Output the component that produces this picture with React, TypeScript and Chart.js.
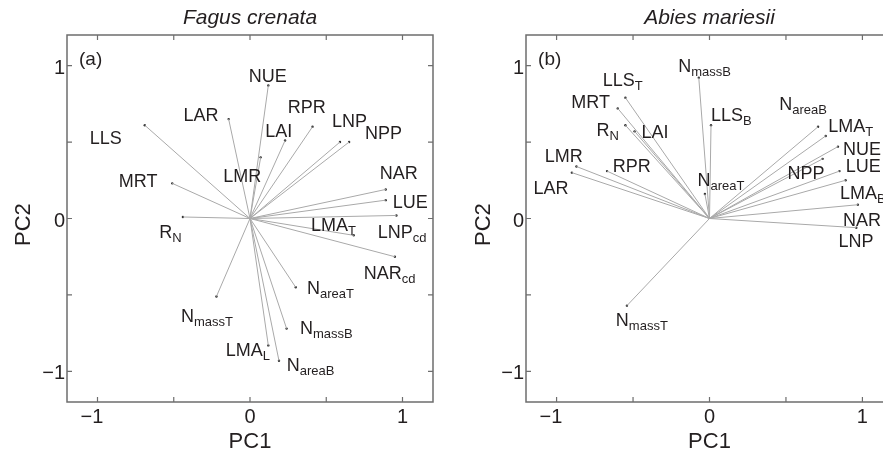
import React, { useEffect, useRef } from "react";
import { Chart, registerables } from "chart.js";

Chart.register(...registerables);

const FONT = "'Liberation Sans', Arial, Helvetica, sans-serif";
const TEXT_COLOR = "#231f20";
const TICK_VALUES = [-1, -0.5, 0, 0.5, 1];
const AXIS_MIN = -1.2;
const AXIS_MAX = 1.2;
const PANEL_TAG_POS = [-1.045, 1.05];

// ---- Fagus crenata (a) ----
const fagusNames = ["LLS", "LAR", "MRT", "R", "NUE", "LMR", "LAI", "RPR", "LNP", "NPP", "NAR", "LUE", "LNP", "LMA", "NAR", "N", "N", "LMA", "N", "N"];
const fagusSubs = ["", "", "", "N", "", "", "", "", "", "", "", "", "cd", "T", "cd", "areaT", "massB", "L", "areaB", "massT"];
const fagusPC1 = [-0.69, -0.14, -0.51, -0.44, 0.12, 0.07, 0.23, 0.41, 0.59, 0.65, 0.89, 0.89, 0.96, 0.68, 0.95, 0.30, 0.24, 0.12, 0.19, -0.22];
const fagusPC2 = [0.61, 0.65, 0.23, 0.01, 0.87, 0.40, 0.51, 0.60, 0.50, 0.50, 0.19, 0.12, 0.02, -0.11, -0.25, -0.45, -0.72, -0.83, -0.93, -0.51];
const fagusLabelPC1 = [-0.946, -0.322, -0.734, -0.552, 0.116, -0.051, 0.188, 0.372, 0.652, 0.876, 0.976, 1.051, 0.953, 0.521, 0.871, 0.416, 0.37, -0.037, 0.283, -0.41];
const fagusLabelPC2 = [0.532, 0.678, 0.251, -0.088, 0.936, 0.284, 0.573, 0.729, 0.641, 0.562, 0.299, 0.109, -0.088, -0.037, -0.351, -0.449, -0.716, -0.854, -0.957, -0.635];

// ---- Abies mariesii (b) ----
const abiesNames = ["LLS", "MRT", "R", "LAI", "LMR", "LAR", "RPR", "N", "N", "LLS", "N", "LMA", "NUE", "NPP", "LUE", "LMA", "NAR", "LNP", "N"];
const abiesSubs = ["T", "", "N", "", "", "", "", "massB", "areaT", "B", "areaB", "T", "", "", "", "B", "", "", "massT"];
const abiesPC1 = [-0.55, -0.60, -0.55, -0.49, -0.87, -0.90, -0.67, -0.07, -0.03, 0.01, 0.71, 0.76, 0.84, 0.74, 0.85, 0.89, 0.97, 0.96, -0.54];
const abiesPC2 = [0.79, 0.72, 0.61, 0.57, 0.34, 0.30, 0.31, 0.92, 0.16, 0.61, 0.60, 0.54, 0.47, 0.39, 0.31, 0.25, 0.09, -0.06, -0.57];
const abiesLabelPC1 = [-0.593, -0.777, -0.697, -0.357, -0.953, -1.036, -0.509, -0.162, -0.036, 0.115, 0.498, 0.898, 0.997, 0.631, 1.005, 0.974, 0.997, 0.958, -0.57];
const abiesLabelPC2 = [0.91, 0.762, 0.584, 0.566, 0.414, 0.203, 0.348, 0.997, 0.257, 0.682, 0.754, 0.605, 0.458, 0.301, 0.344, 0.17, -0.005, -0.146, -0.658];

type Panel = {
  title: string;
  tag: string;
  names: string[];
  subs: string[];
  pc1: number[];
  pc2: number[];
  lx: number[];
  ly: number[];
  yAxisWidth: number;
  padRight: number;
};

const fmtTick = (v: number, isX: boolean) => {
  if (Math.abs(v - Math.round(v)) > 1e-9) return "";
  if (v < 0) return "\u2212" + Math.abs(v) + (isX ? "\u2007" : "");
  return String(v);
};

const framePlugin = {
  id: "frameTicks",
  afterDraw(chart: any) {
    const { ctx, chartArea, scales } = chart;
    const { left, right, top, bottom } = chartArea;
    ctx.save();
    ctx.strokeStyle = "#6e6e6e";
    ctx.lineWidth = 1.5;
    ctx.beginPath();
    ctx.rect(left, top, right - left, bottom - top);
    ctx.stroke();
    ctx.lineWidth = 1.2;
    const L = 5;
    ctx.beginPath();
    for (const v of TICK_VALUES) {
      const px = scales.x.getPixelForValue(v);
      ctx.moveTo(px, bottom);
      ctx.lineTo(px, bottom - L);
      ctx.moveTo(px, top);
      ctx.lineTo(px, top + L);
      const py = scales.y.getPixelForValue(v);
      ctx.moveTo(left, py);
      ctx.lineTo(left + L, py);
      ctx.moveTo(right, py);
      ctx.lineTo(right - L, py);
    }
    ctx.stroke();
    ctx.restore();
  },
};

const labelPlugin = {
  id: "varLabels",
  afterDatasetsDraw(chart: any) {
    const p: Panel = chart.options.plugins.varLabels.panel;
    const { ctx, scales } = chart;
    ctx.save();
    ctx.fillStyle = TEXT_COLOR;
    ctx.textBaseline = "alphabetic";
    const mainSize = 18;
    const subSize = 13;
    for (let i = 0; i < p.names.length; i++) {
      const cx = scales.x.getPixelForValue(p.lx[i]);
      const cy = scales.y.getPixelForValue(p.ly[i]);
      ctx.font = `${mainSize}px ${FONT}`;
      const w = ctx.measureText(p.names[i]).width;
      const base = cy + mainSize * 0.716 / 2;
      ctx.textAlign = "left";
      ctx.fillText(p.names[i], cx - w / 2, base);
      if (p.subs[i]) {
        ctx.font = `${subSize}px ${FONT}`;
        ctx.fillText(p.subs[i], cx + w / 2, base + 4);
      }
    }
    // panel tag
    ctx.font = `19px ${FONT}`;
    ctx.textAlign = "center";
    const tx = scales.x.getPixelForValue(PANEL_TAG_POS[0]);
    const ty = scales.y.getPixelForValue(PANEL_TAG_POS[1]);
    ctx.fillText(p.tag, tx, ty + 19 * 0.716 / 2);
    ctx.restore();
  },
};

function makeConfig(p: Panel): any {
  const vectors: any[] = [];
  const tips: any[] = [];
  for (let i = 0; i < p.pc1.length; i++) {
    vectors.push({ x: 0, y: 0 }, { x: p.pc1[i], y: p.pc2[i] }, { x: 0, y: null });
    tips.push({ x: p.pc1[i], y: p.pc2[i] });
  }
  return {
    type: "scatter",
    data: {
      datasets: [
        {
          label: "loadings",
          data: vectors,
          showLine: true,
          spanGaps: false,
          borderColor: "#a9a9a9",
          borderWidth: 1,
          pointRadius: 0,
          pointHoverRadius: 0,
        },
        {
          label: "tips",
          data: tips,
          showLine: false,
          pointRadius: 1.2,
          pointBorderWidth: 0,
          pointBackgroundColor: "#333",
          pointHoverRadius: 0,
        },
      ],
    },
    options: {
      responsive: false,
      animation: false,
      devicePixelRatio: 1,
      events: [],
      layout: { padding: { left: 0, right: p.padRight, top: 0, bottom: 0 } },
      plugins: {
        legend: { display: false },
        tooltip: { enabled: false },
        title: {
          display: true,
          fullSize: false,
          text: p.title,
          color: TEXT_COLOR,
          font: { family: FONT, size: 21, style: "italic", weight: "normal" },
          padding: { top: 6, bottom: 3.8 },
        },
        varLabels: { panel: p },
      },
      scales: {
        x: {
          type: "linear",
          min: AXIS_MIN,
          max: AXIS_MAX,
          afterBuildTicks: (s: any) => {
            s.ticks = TICK_VALUES.map((v) => ({ value: v }));
          },
          afterFit: (s: any) => {
            s.height = 58;
          },
          grid: { display: false, drawTicks: false },
          border: { display: false },
          ticks: {
            autoSkip: false,
            maxRotation: 0,
            padding: 3,
            color: TEXT_COLOR,
            font: { family: FONT, size: 20 },
            callback: (v: number) => fmtTick(v, true),
          },
          title: {
            display: true,
            text: "PC1",
            color: TEXT_COLOR,
            font: { family: FONT, size: 22 },
            padding: { top: 0, bottom: 5 },
          },
        },
        y: {
          type: "linear",
          min: AXIS_MIN,
          max: AXIS_MAX,
          afterBuildTicks: (s: any) => {
            s.ticks = TICK_VALUES.map((v) => ({ value: v }));
          },
          afterFit: (s: any) => {
            s.width = p.yAxisWidth;
          },
          grid: { display: false, drawTicks: false },
          border: { display: false },
          ticks: {
            autoSkip: false,
            padding: 2,
            labelOffset: 2.5,
            color: TEXT_COLOR,
            font: { family: FONT, size: 20 },
            callback: (v: number) => fmtTick(v, false),
          },
          title: {
            display: true,
            text: "PC2  ",
            color: TEXT_COLOR,
            font: { family: FONT, size: 22 },
            padding: { top: 10.8, bottom: 0 },
          },
        },
      },
    },
    plugins: [framePlugin, labelPlugin],
  };
}

const fagusPanel: Panel = {
  title: "Fagus crenata",
  tag: "(a)",
  names: fagusNames,
  subs: fagusSubs,
  pc1: fagusPC1,
  pc2: fagusPC2,
  lx: fagusLabelPC1,
  ly: fagusLabelPC2,
  yAxisWidth: 67,
  padRight: 27,
};

const abiesPanel: Panel = {
  title: "Abies mariesii",
  tag: "(b)",
  names: abiesNames,
  subs: abiesSubs,
  pc1: abiesPC1,
  pc2: abiesPC2,
  lx: abiesLabelPC1,
  ly: abiesLabelPC2,
  yAxisWidth: 66,
  padRight: 17,
};

export default function App() {
  const leftRef = useRef<HTMLCanvasElement | null>(null);
  const rightRef = useRef<HTMLCanvasElement | null>(null);

  useEffect(() => {
    const c1 = new Chart(leftRef.current as HTMLCanvasElement, makeConfig(fagusPanel));
    const c2 = new Chart(rightRef.current as HTMLCanvasElement, makeConfig(abiesPanel));
    return () => {
      c1.destroy();
      c2.destroy();
    };
  }, []);

  return (
    <div
      style={{
        position: "fixed",
        left: 0,
        top: 0,
        width: 883,
        height: 460,
        overflow: "hidden",
        background: "#fff",
      }}
    >
      <canvas
        ref={leftRef}
        width={460}
        height={460}
        style={{ position: "absolute", left: 0, top: 0, width: 460, height: 460 }}
      />
      <canvas
        ref={rightRef}
        width={450}
        height={460}
        style={{ position: "absolute", left: 460, top: 0, width: 450, height: 460 }}
      />
    </div>
  );
}
